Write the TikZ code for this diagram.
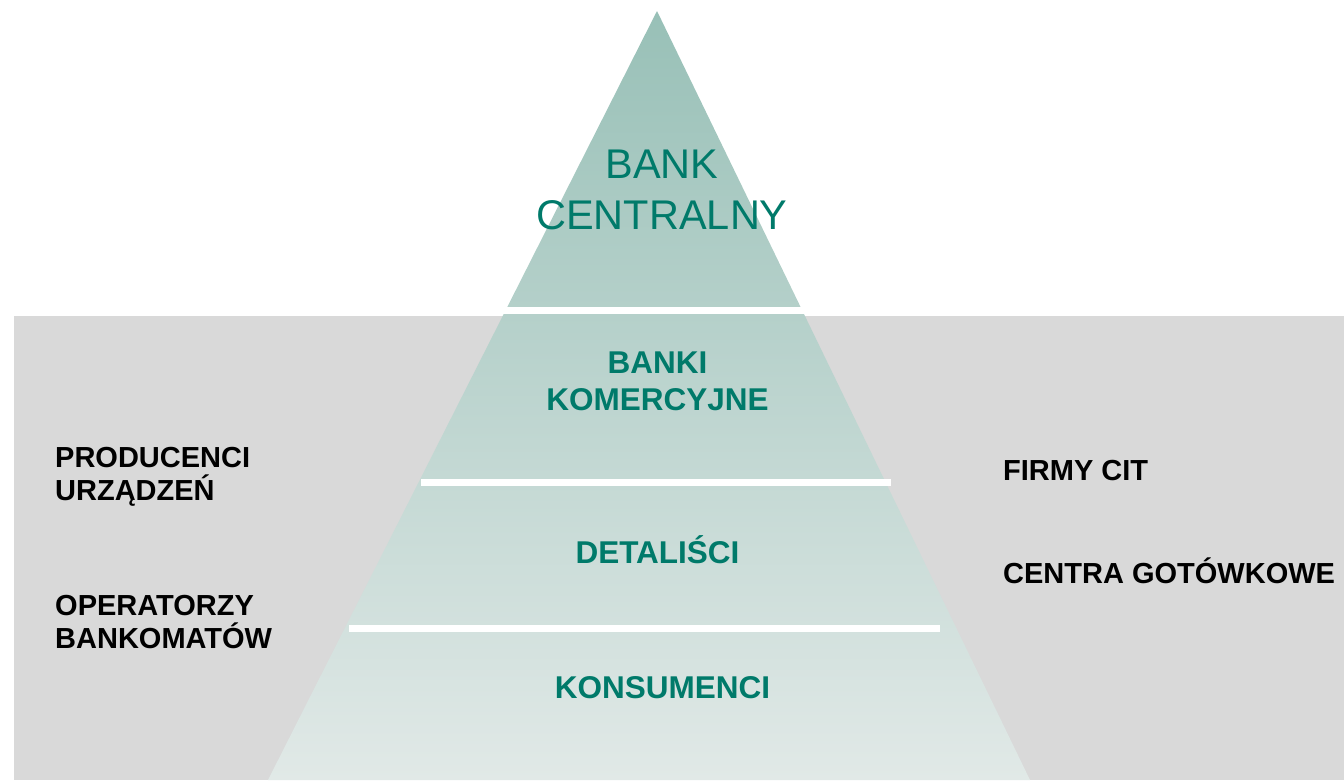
\documentclass[tikz,border=0pt]{standalone}
\usepackage{fontspec}
\setmainfont{Liberation Sans}
\definecolor{pyrtop}{RGB}{152,192,183}
\definecolor{pyrbot}{RGB}{225,233,231}
\definecolor{lvltext}{RGB}{0,122,106}
\definecolor{backgray}{RGB}{217,217,217}

\begin{document}
\begin{tikzpicture}[x=1pt,y=-1pt,
  lvl/.style={text=lvltext,font=\bfseries\fontsize{31.5}{37}\selectfont,align=center,anchor=base,inner sep=0pt},
  side/.style={font=\bfseries\fontsize{29}{33}\selectfont,align=left,anchor=base west,inner sep=0pt}]
\useasboundingbox (0,0) rectangle (1344,780);
\fill[backgray] (14,316) rectangle (1344,780);
\shade[top color=pyrtop,bottom color=pyrbot] (657,11) -- (1030,780) -- (268,780) -- cycle;
% white gaps between the levels
\foreach \ya/\yb/\xa/\xb in {307/314/500/815, 479/486/421/891, 624.5/632/349/940}{
  \fill[white] (\xa,\yb) rectangle (\xb,\ya); }
% levels of the pyramid
\node[lvl,font=\fontsize{41.5}{51}\selectfont] (bc) at (662,229) {BANK\\CENTRALNY};
\node[lvl] (bk) at (657.5,410) {BANKI\\KOMERCYJNE};
\node[lvl] (det) at (657.5,563) {DETALIŚCI};
\node[lvl] (kons) at (662.5,698) {KONSUMENCI};
% side labels
\node[side] (prod) at (55,500) {PRODUCENCI\\URZĄDZEŃ};
\node[side] (oper) at (55,648) {OPERATORZY\\BANKOMATÓW};
\node[side] (cit) at (1003,480) {FIRMY CIT};
\node[side] (cent) at (1003,583) {CENTRA GOTÓWKOWE};
\end{tikzpicture}
\end{document}
